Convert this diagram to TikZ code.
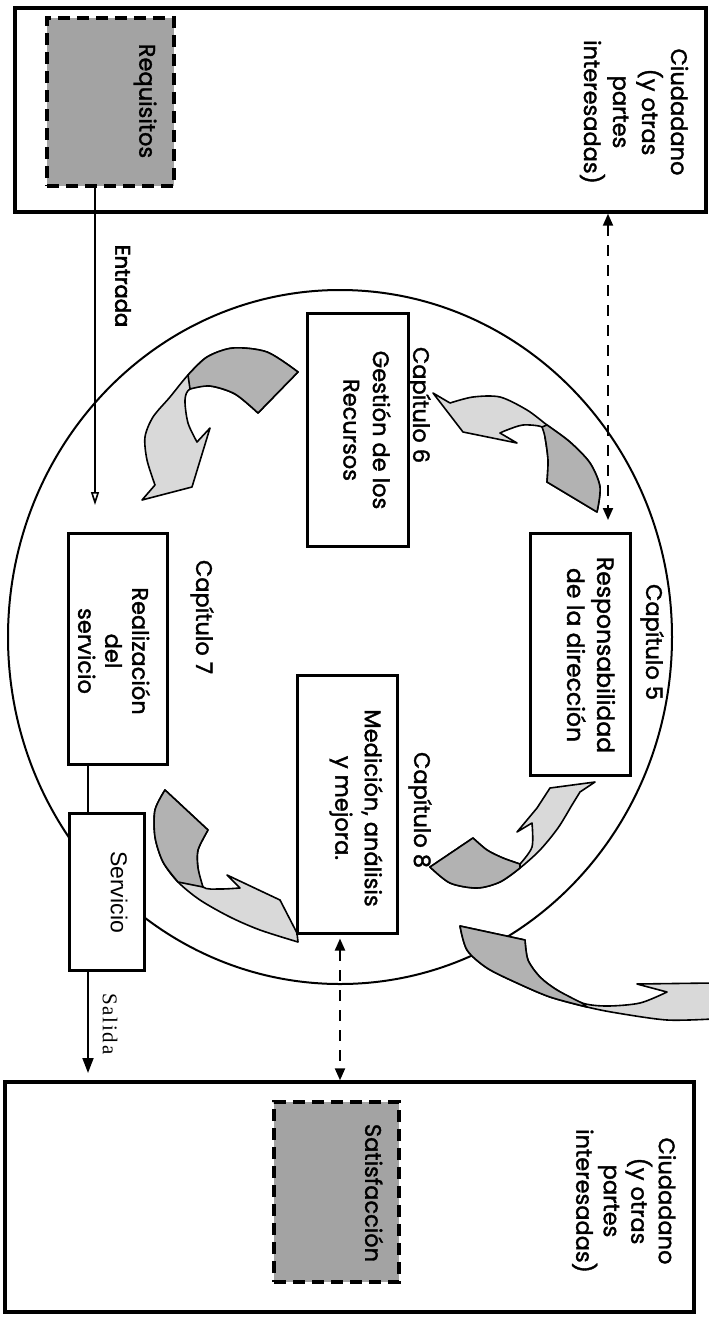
\documentclass[tikz,border=0pt]{standalone}
\usepackage{fontspec}
\setmainfont{Poppins}[FakeBold=1.6]
\newfontfamily\boldgothic{Poppins}[FakeBold=3]
\newfontfamily\arialf{Liberation Sans}
\newfontfamily\timesf{Liberation Serif}
\usetikzlibrary{arrows.meta,calc,shapes.geometric}

\begin{document}
\begin{tikzpicture}[x=1pt,y=-1pt,
  frame/.style={draw, line width=3.4pt, inner sep=0pt},
  chbox/.style={draw, line width=3pt, fill=white, inner sep=0pt},
  shadedbox/.style={draw, line width=3.2pt, dash pattern=on 12pt off 7pt, fill=black!36, inner sep=0pt},
  vtext/.style={rotate=-90, align=center, inner sep=0pt, font=\fontsize{22.5}{29.5}\selectfont},
  dashlink/.style={line width=2pt, dash pattern=on 11pt off 9pt, {Triangle[width=10pt,length=12pt]}-{Triangle[width=10pt,length=12pt]}},
  flowline/.style={line width=1.6pt},
  bandlight/.style={fill=black!15},
  banddark/.style={fill=black!30},
  bandline/.style={draw, line width=1.6pt, line join=round},
]
\useasboundingbox (0,0) rectangle (709,1323);
\clip (0,0) rectangle (709,1323);

% helper abscissas for the vertical connectors
\coordinate (xin) at (95,0);
\coordinate (xsv) at (88,0);
\coordinate (xd1) at (608,0);
\coordinate (xd2) at (340,0);

% the improvement cycle
\node[draw, ellipse, line width=2pt, minimum width=664, minimum height=694, inner sep=0pt] (ring) at (340,637) {};

% citizens: requirements (top) and satisfaction (bottom)
\node[frame, minimum width=691, minimum height=204] (top) at (360.5,110) {};
\node[shadedbox, minimum width=127, minimum height=168] (req) at (110.5,102) {};
\node[vtext] (reqt) at (145,101) {Requisitos};
\node[vtext, font=\fontsize{22.5}{29}\selectfont] (ciuda) at (634,112) {Ciudadano\\(y otras\\partes\\interesadas)};

\node[frame, minimum width=689, minimum height=230] (bot) at (349.5,1197) {};
\node[shadedbox, minimum width=125, minimum height=180] (sat) at (336.5,1192) {};
\node[vtext] (satt) at (374,1193) {Satisfacción};
\node[vtext, font=\fontsize{22.5}{27.5}\selectfont] (ciudb) at (624,1201) {Ciudadano\\(y otras\\partes\\interesadas)};

% curved block arrows of the cycle
% 6 -> 7
\path[bandlight, bandline] plot[smooth] coordinates {(298,372)(267,352)(233,348)(207,357)(188,375)(170,397)(153,417)(145,437)(147,460)(155,485)}
  -- (142,500) -- (192,487) -- (210,428) -- (197,442)
  -- plot[smooth] coordinates {(197,442)(188,423)(185,400)(190,389)(210,386)(235,394)(258,413)} -- cycle;
\path[banddark, bandline] plot[smooth] coordinates {(298,372)(267,352)(233,348)(207,357)(188,375)}
  -- (190,389) -- plot[smooth] coordinates {(190,389)(210,386)(235,394)(258,413)} -- cycle;
% 5 -> 6
\path[bandlight, bandline] plot[smooth] coordinates {(450,403)(473,397)(500,397)(527,410)(547,425)(570,442)(590,463)(600,487)(597,512)}
  -- (547,482) -- plot[smooth] coordinates {(547,482)(548,460)(545,437)(542,427)(523,425)(507,430)(500,433)}
  -- (517,443) -- (463,432) -- (433,393) -- cycle;
\path[banddark, bandline] plot[smooth] coordinates {(547,425)(570,442)(590,463)(600,487)(597,512)}
  -- (547,482) -- plot[smooth] coordinates {(547,482)(548,460)(545,437)(542,427)} -- cycle;
% 8 -> 5
\path[bandlight, bandline] plot[smooth] coordinates {(430,867)(450,883)(477,888)(500,882)(520,868)(540,850)(558,828)(572,805)(580,792)}
  -- (595,782) -- (550,788) -- (537,808) -- (517,832) -- (532,823)
  -- plot[smooth] coordinates {(532,823)(532,847)(520,864)}
  -- plot[smooth] coordinates {(520,864)(503,858)(487,850)(473,838)} -- cycle;
\path[banddark, bandline] plot[smooth] coordinates {(430,867)(450,883)(477,888)(500,882)(520,868)}
  -- (520,864) -- plot[smooth] coordinates {(520,864)(503,858)(487,850)(473,838)} -- cycle;
% 7 -> 8
\path[bandlight, bandline] plot[smooth] coordinates {(165,790)(155,810)(155,837)(163,862)(178,882)(200,900)(230,917)(260,930)(298,942)}
  -- (297,933) -- (280,900) -- (227,875) -- (240,888)
  -- plot[smooth] coordinates {(240,888)(220,889)(203,887)(198,868)(198,850)(208,830)} -- cycle;
\path[banddark, bandline] plot[smooth] coordinates {(165,790)(155,810)(155,837)(163,862)(178,882)}
  -- (203,887) -- plot[smooth] coordinates {(203,887)(198,868)(198,850)(208,830)} -- cycle;
% leaving the cycle
\path[bandlight, bandline] plot[smooth] coordinates {(460,926)(467,950)(487,968)(517,983)(550,997)(587,1007)(617,1013)(667,1020)(712,1019)}
  -- (712,983) -- (637,984) -- (667,992)
  -- plot[smooth] coordinates {(667,992)(640,1003)(607,1006)(582,1003)(557,990)(540,977)(528,960)(525,940)} -- cycle;
\path[banddark, bandline] plot[smooth] coordinates {(460,926)(467,950)(487,968)(517,983)(550,997)(587,1007)}
  -- (582,1003) -- plot[smooth] coordinates {(582,1003)(557,990)(540,977)(528,960)(525,940)} -- cycle;

% chapter boxes
\node[chbox, minimum width=100, minimum height=242] (b5) at (580,654) {};
\node[chbox, minimum width=101, minimum height=233] (b6) at (357.5,429.5) {};
\node[chbox, minimum width=99, minimum height=231] (b7) at (117.5,648.5) {};
\node[chbox, minimum width=100, minimum height=258] (b8) at (347,804) {};
\node[chbox, minimum width=75, minimum height=157] (serv) at (106.5,891.5) {};

\node[vtext] (c5) at (652,642) {Capítulo 5};
\node[vtext, font=\fontsize{23.5}{30}\selectfont] (t5) at (591,655) {Responsabilidad\\de la dirección};
\node[vtext] (c6) at (419,405) {Capítulo 6};
\node[vtext] (t6) at (367,430) {Gestión de los\\Recursos};
\node[vtext] (c7) at (202,617) {Capítulo 7};
\node[vtext, font=\fontsize{22.5}{27}\selectfont] (t7) at (114,651) {Realización\\del\\servicio};
\node[vtext] (c8) at (420,810) {Capítulo 8};
\node[vtext] (t8) at (356,808) {Medición, análisis\\y mejora.};
\node[rotate=-90, inner sep=0pt, font=\arialf\fontsize{23}{27}\selectfont] (servt) at (119,892) {Servicio};

% input and output
\coordinate (inend) at (95,505);
\draw[flowline, -{Triangle[open, width=8pt, length=13pt, line width=1.6pt]}] (xin |- req.south) -- (inend);
\node[vtext, font=\boldgothic\fontsize{21}{24}\selectfont] (entr) at (123,286) {Entrada};
\draw[flowline] (xsv |- b7.south) -- (xsv |- serv.north);
\coordinate (outend) at (88,1073);
\draw[line width=1.8pt, -{Triangle[width=11pt, length=15pt]}] (xsv |- serv.south) -- (outend);
\node[rotate=-90, inner sep=0pt, font=\timesf\fontsize{21}{25}\selectfont] (salt) at (110,1024) {\addfontfeature{LetterSpace=8}Salida};

% feedback links with the citizens
\coordinate (d1end) at (608,520);
\draw[dashlink] (xd1 |- top.south) -- (d1end);
\draw[dashlink] ($(xd2 |- b8.south)+(0,4)$) -- (xd2 |- bot.north);
\end{tikzpicture}
\end{document}
